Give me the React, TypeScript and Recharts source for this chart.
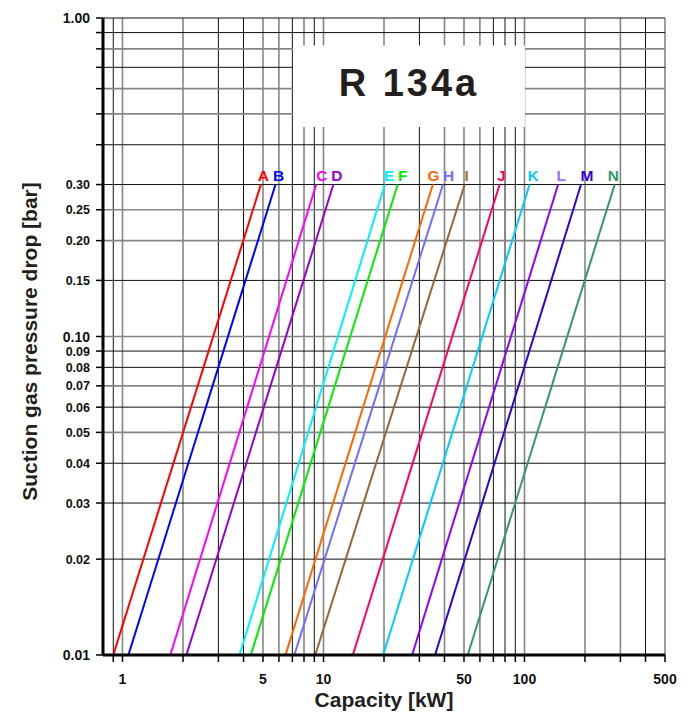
import React from "react";
import {
  LineChart,
  Line,
  XAxis,
  YAxis,
  ReferenceLine,
  ReferenceArea,
  Label,
} from "recharts";

const FONT = "'Liberation Sans', Arial, Helvetica, sans-serif";

// curve names and the capacity (kW) read at 0.01 bar and at 0.30 bar
const curveNames = ["A", "B", "C", "D", "E", "F", "G", "H", "I", "J", "K", "L", "M", "N"];
const capacityAtLowDrop = [0.9, 1.07, 1.73, 2.08, 3.82, 4.35, 6.47, 7.16, 9.1, 14.0, 19.8, 27.6, 35.9, 52.2];
const capacityAtHighDrop = [4.88, 5.77, 9.2, 11.2, 20.2, 23.4, 35.0, 39.3, 50.4, 75.2, 106, 147, 191, 281];
const lowDrop = 0.01;
const highDrop = 0.3;

const curveColors = [
  "#ff0000", "#0000ff", "#ff00ff", "#9900cc", "#00f0ff", "#00ee00", "#ff6600",
  "#6f6fff", "#996633", "#ff0066", "#00ccff", "#9000ff", "#3300cc", "#339966",
];
const letterColors = [
  "#ff0000", "#0000ff", "#ff00ff", "#9900cc", "#00f0ff", "#00ee00", "#ff6600",
  "#6f6fff", "#a0703c", "#ff0066", "#00ccff", "#9f6bff", "#3300cc", "#339966",
];
// small horizontal nudge of each letter from the top end of its curve (px)
const letterNudge = [2.6, 3, 5.7, 3.4, 4, 5, 0.6, 5.6, 2, 1.7, 3.4, 3, 6, -1.4];

// axis ticks / grid
const xGridValues = [0.9, 1, 2, 3, 4, 5, 6, 7, 8, 9, 10, 20, 30, 40, 50, 60, 70, 80, 90, 100, 200, 300, 400, 500];
const xTickLabels = [1, 5, 10, 50, 100, 500];
const xGrayLines = [1, 2, 5, 6, 8, 10, 20, 40, 50, 60, 100, 200, 300, 500];

const yGridValues = [
  0.01, 0.02, 0.03, 0.04, 0.05, 0.06, 0.07, 0.08, 0.09, 0.1, 0.15, 0.2, 0.25, 0.3,
  0.4, 0.5, 0.6, 0.7, 0.8, 0.9, 1,
];
const yTickLabels = [0.01, 0.02, 0.03, 0.04, 0.05, 0.06, 0.07, 0.08, 0.09, 0.1, 0.15, 0.2, 0.25, 0.3, 1];
const yBigLabels = [0.01, 0.1, 1];
const yGrayLines = [0.8, 0.6, 0.5, 0.25, 0.2, 0.1, 0.07, 0.05];

const curves = curveNames.map((name, i) => ({
  name,
  data: [
    { x: capacityAtLowDrop[i], y: lowDrop },
    { x: capacityAtHighDrop[i], y: highDrop },
  ],
}));

const XTick = (props: any) => {
  const { x, y, payload } = props;
  if (!xTickLabels.includes(payload.value)) return <g />;
  return (
    <text x={x} y={y} dy="0.71em" textAnchor="middle" fontSize={14} fontWeight="bold" fill="#111" fontFamily={FONT}>
      {payload.value}
    </text>
  );
};

const YTick = (props: any) => {
  const { x, y, payload } = props;
  if (!yTickLabels.includes(payload.value)) return <g />;
  const big = yBigLabels.includes(payload.value);
  return (
    <text x={x} y={y} dy="0.36em" textAnchor="end" fontSize={big ? 14 : 12.5} fontWeight="bold" fill="#111" fontFamily={FONT}>
      {payload.value.toFixed(2)}
    </text>
  );
};

const YTitle = (props: any) => {
  const { viewBox } = props;
  const cx = viewBox.x + 29;
  const cy = viewBox.y + viewBox.height / 2 + 5;
  return (
    <text
      x={cx}
      y={cy}
      transform={`rotate(-90 ${cx} ${cy})`}
      textAnchor="middle"
      dominantBaseline="central"
      fontSize={21}
      fontWeight="bold"
      fill="#231f20"
      fontFamily={FONT}
    >
      Suction gas pressure drop [bar]
    </text>
  );
};

const XTitle = (props: any) => {
  const { viewBox } = props;
  return (
    <text
      x={viewBox.x + viewBox.width / 2}
      y={viewBox.y + 52}
      textAnchor="middle"
      fontSize={21}
      fontWeight="bold"
      fill="#231f20"
      fontFamily={FONT}
    >
      Capacity [kW]
    </text>
  );
};

const TitleText = (props: any) => {
  const { viewBox } = props;
  return (
    <text
      x={viewBox.x + viewBox.width / 2}
      y={viewBox.y + viewBox.height / 2 + 10}
      textAnchor="middle"
      fontSize={38}
      fontWeight="bold"
      letterSpacing={3}
      fill="#231f20"
      fontFamily={FONT}
    >
      R 134a
    </text>
  );
};

const makeLetter = (i: number) => (props: any) => {
  const { x, y, index } = props;
  if (index !== 1) return <g />;
  return (
    <text x={x + letterNudge[i]} y={y - 4} textAnchor="middle" fontSize={15.5} fontWeight="bold" fill={letterColors[i]} fontFamily={FONT}>
      {curveNames[i]}
    </text>
  );
};

export default function App() {
  return (
    <div style={{ position: "absolute", left: 0, top: 0, background: "#fff" }}>
      <LineChart width={694} height={715} margin={{ top: 18, right: 29, bottom: 0, left: 0 }}>
        <XAxis
          dataKey="x"
          type="number"
          scale="log"
          domain={[0.8, 500]}
          allowDataOverflow
          ticks={xGridValues}
          interval={0}
          height={60}
          tickSize={7}
          tickMargin={12}
          tick={XTick}
          tickLine={{ stroke: "#000", strokeWidth: 1.5 }}
          axisLine={{ stroke: "#000", strokeWidth: 3 }}
        >
          <Label content={XTitle} />
        </XAxis>
        <YAxis
          dataKey="y"
          type="number"
          scale="log"
          domain={[0.01, 1]}
          allowDataOverflow
          ticks={yGridValues}
          interval={0}
          width={103}
          tickSize={7}
          tickMargin={6}
          tick={YTick}
          tickLine={{ stroke: "#000", strokeWidth: 1.5 }}
          axisLine={{ stroke: "#000", strokeWidth: 3 }}
        >
          <Label content={YTitle} />
        </YAxis>
        {xGridValues.map((v) => {
          const gray = xGrayLines.includes(v);
          return (
            <ReferenceLine
              key={`xg-${v}`}
              x={v}
              stroke={gray ? "#858585" : "#111"}
              strokeWidth={gray ? 1.6 : 1}
              zIndex={-50}
            />
          );
        })}
        {yGridValues.map((v) => {
          const gray = yGrayLines.includes(v);
          return (
            <ReferenceLine
              key={`yg-${v}`}
              y={v}
              stroke={gray ? "#858585" : "#111"}
              strokeWidth={gray ? 1.6 : 1}
              zIndex={-50}
            />
          );
        })}
        <ReferenceArea x1={7.05} x2={100.5} y1={0.455} y2={0.82} fill="#fff" fillOpacity={1} stroke="none" zIndex={-10}>
          <Label content={TitleText} />
        </ReferenceArea>
        {curves.map((c, i) => (
          <Line
            key={c.name}
            data={c.data}
            dataKey="y"
            stroke={curveColors[i]}
            strokeWidth={2}
            dot={false}
            activeDot={false}
            isAnimationActive={false}
            label={makeLetter(i)}
          />
        ))}
      </LineChart>
    </div>
  );
}
